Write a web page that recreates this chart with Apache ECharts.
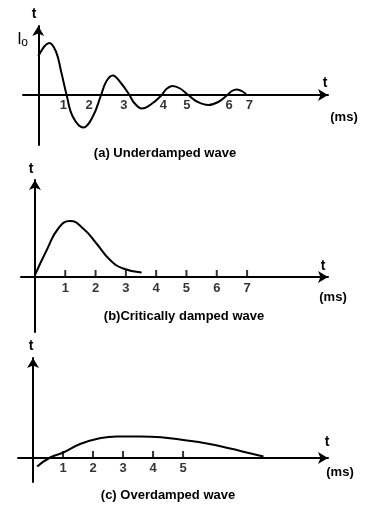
<!DOCTYPE html>
<html>
<head>
<meta charset="utf-8">
<script src="https://cdn.jsdelivr.net/npm/echarts@6/dist/echarts.min.js"></script>
<style>html,body{margin:0;padding:0;background:#fff;}#c{width:392px;height:528px;}</style>
</head>
<body>
<div id="c"></div>
<script>
// (a) Underdamped wave: time (ms) and current (relative units)
const underdampedT = [0, 0.36, 0.58, 0.75, 0.93, 1.13, 1.48, 1.79, 2.06, 2.23, 2.44, 2.71, 2.99, 3.15, 3.4, 3.69, 4.05, 4.2, 4.4, 4.65, 4.92, 5.2, 5.58, 5.9, 6.2, 6.35, 6.51, 6.7, 6.83];
const underdampedI = [0.77, 1.04, 0.87, 0.47, 0, -0.43, -0.65, -0.43, 0, 0.27, 0.39, 0.24, 0, -0.16, -0.27, -0.19, 0, 0.12, 0.18, 0.13, 0, -0.13, -0.2, -0.14, 0, 0.08, 0.11, 0.07, 0];
// tick labels of (a), placed where drawn in the figure
const labelsA = ['1', '2', '3', '4', '5', '6', '7'];
const labelPosA = [0.82, 1.67, 2.81, 4.1, 4.87, 6.26, 6.92];

// (b) Critically damped wave
const criticalT = [0, 0.39, 0.77, 1.16, 1.59, 2.03, 2.48, 2.91, 3.52];
const criticalI = [0.04, 0.54, 0.97, 1.12, 0.97, 0.67, 0.34, 0.17, 0.09];
const ticksB = [1, 2, 3, 4, 5, 6, 7];

// (c) Overdamped wave
const overT = [0.14, 0.57, 1.01, 1.57, 2.12, 2.79, 3.57, 4.34, 5.01, 5.79, 6.57, 7.12, 7.68];
const overI = [-0.17, 0.01, 0.11, 0.28, 0.38, 0.43, 0.43, 0.41, 0.36, 0.29, 0.19, 0.11, 0.03];
const ticksC = [1, 2, 3, 4, 5];

const captions = ['(a) Underdamped wave', '(b)Critically damped wave', '(c) Overdamped wave'];
const axisName = 't';
const unitName = '(ms)';

const FONT = '"Liberation Sans", Arial, sans-serif';
const zip = (a, b) => a.map((v, i) => [v, b[i]]);

function xAx(gi, min, max) {
  return {
    type: 'value', gridIndex: gi, min: min, max: max,
    axisLine: { show: true, onZero: true, symbol: ['none', 'arrow'], symbolSize: [9, 10], lineStyle: { color: '#000', width: 2 } },
    axisTick: { show: false }, axisLabel: { show: false }, splitLine: { show: false }
  };
}
const yAx = xAx;

function labelSeries(gi, xs, texts, dy) {
  return {
    type: 'scatter', xAxisIndex: gi, yAxisIndex: gi, symbolSize: 1, silent: true,
    itemStyle: { color: 'transparent' },
    label: { show: true, position: 'inside', offset: [0, dy], formatter: p => p.value[2],
      color: '#000', fontFamily: FONT, fontWeight: 'bold', fontSize: 13 },
    data: xs.map((x, i) => [x, 0, texts[i]]), z: 5
  };
}
function tickSeries(gi, xs) {
  return {
    type: 'scatter', xAxisIndex: gi, yAxisIndex: gi, symbol: 'rect', symbolSize: [2, 7],
    symbolOffset: [0, '-50%'], silent: true, itemStyle: { color: '#000' },
    data: xs.map(x => [x, 0]), z: 4
  };
}
function curve(gi, t, v, sm) {
  return {
    type: 'line', xAxisIndex: gi, yAxisIndex: gi, smooth: sm, symbol: 'none', silent: true,
    lineStyle: { color: '#000', width: 2 }, data: zip(t, v), z: 3
  };
}
function txt(s, x, y, size, bold) {
  return { type: 'text', x: x, y: y, silent: true,
    style: { text: s, align: 'center', verticalAlign: 'middle', textAlign: 'center', textVerticalAlign: 'middle',
      font: (bold ? 'bold ' : '') + size + 'px ' + FONT, fill: '#000' } };
}

const chart = echarts.init(document.getElementById('c'), null, { renderer: 'canvas' });
chart.setOption({
  animation: false,
  backgroundColor: '#fff',
  grid: [
    { left: 23, top: 26, width: 305, height: 119 },
    { left: 21, top: 180, width: 307, height: 152 },
    { left: 18, top: 358, width: 310, height: 124 }
  ],
  xAxis: [xAx(0, -0.5, 9.5), xAx(1, -0.46, 9.67), xAx(2, -0.5, 9.83)],
  yAxis: [yAx(0, -1, 1.38), yAx(1, -1.1, 1.94), yAx(2, -0.48, 2.0)],
  series: [
    curve(0, underdampedT, underdampedI, 0.4),
    labelSeries(0, labelPosA, labelsA, 10),
    curve(1, criticalT, criticalI, 0.5),
    tickSeries(1, ticksB),
    labelSeries(1, ticksB, ticksB.map(String), 11),
    curve(2, overT, overI, 0.5),
    tickSeries(2, ticksC),
    labelSeries(2, ticksC, ticksC.map(String), 10)
  ],
  graphic: [
    txt(axisName, 34, 14, 14, true),
    txt('I', 19.5, 40, 16, false),
    txt('o', 24.5, 43, 12, false),
    txt(axisName, 325, 83, 14, true),
    txt(unitName, 344, 117, 13, true),
    txt(captions[0], 165, 153, 13, true),

    txt(axisName, 31, 169, 14, true),
    txt(axisName, 323, 266, 14, true),
    txt(unitName, 333, 297, 13, true),
    txt(captions[1], 184, 316, 13, true),

    txt(axisName, 31, 346, 14, true),
    txt(axisName, 327, 442, 14, true),
    txt(unitName, 340, 472, 13, true),
    txt(captions[2], 168, 495, 13, true)
  ]
});
</script>
</body>
</html>
